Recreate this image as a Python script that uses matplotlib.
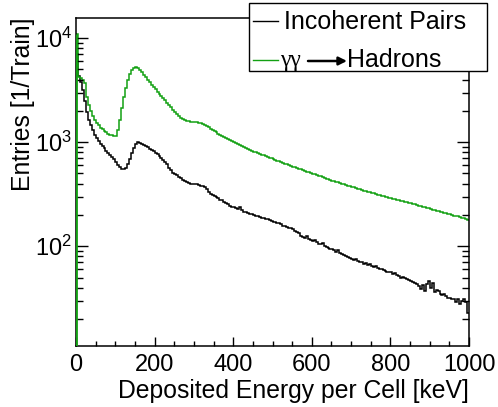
import numpy as np
import matplotlib
matplotlib.use("Agg")
import matplotlib.pyplot as plt
from matplotlib.ticker import MultipleLocator, LogLocator, NullFormatter, FixedLocator
from matplotlib.patches import Rectangle, FancyArrowPatch
from matplotlib.lines import Line2D

plt.rcParams['font.family'] = ['Liberation Sans', 'DejaVu Sans']
plt.rcParams['mathtext.fontset'] = 'custom'
plt.rcParams['mathtext.rm'] = 'Liberation Sans'
plt.rcParams['mathtext.it'] = 'Liberation Sans:italic'
plt.rcParams['mathtext.bf'] = 'Liberation Sans:bold'

# Bin edges: 0..1000 keV in 5 keV bins
bin_width = 5
n_bins = 200

incoherent_pairs = [
    7000, 4300, 3800, 3200, 2500, 1950, 1650, 1450, 1300, 1180,
    1090, 1020, 960, 910, 870, 830, 790, 755, 720, 690,
    650, 610, 575, 555, 548, 570, 620, 690, 780, 880,
    960, 1010, 990, 960, 940, 915, 890, 865, 845, 820,
    795, 765, 735, 710, 680, 650, 615, 560, 535, 510,
    495, 480, 462, 450, 430, 420, 410, 402, 398, 395,
    392, 396, 385, 378, 380, 372, 355, 330, 318, 310,
    305, 296, 290, 280, 275, 265, 258, 252, 245, 240,
    236, 232, 228, 240, 222, 215, 212, 208, 205, 202,
    200, 196, 193, 190, 188, 186, 183, 181, 178, 176,
    172, 170, 166, 168, 163, 158, 156, 152, 150, 148,
    145, 140, 136, 133, 126, 122, 120, 124, 117, 114,
    112, 114, 110, 106, 104, 108, 100, 98, 96, 94,
    93, 91, 88, 92, 86, 84, 82, 80, 78, 77,
    76, 74, 75, 72, 71, 70, 68, 69, 66, 67,
    65, 63, 64, 62, 60, 61, 59, 58, 57, 56,
    56, 54, 55, 53, 52, 50, 51, 49, 48, 47,
    46, 45, 44, 43, 41, 39, 42, 37, 43, 46,
    40, 44, 36, 38, 37, 35, 34, 35, 33, 32,
    32, 31, 31, 29, 31, 28, 30, 31, 29, 23,
]

gg_hadrons = [
    11000, 4200, 4100, 4000, 3700, 2700, 2300, 2000, 1800, 1650,
    1530, 1450, 1380, 1330, 1280, 1240, 1210, 1180, 1160, 1145,
    1140, 1300, 1650, 2150, 2700, 3300, 3950, 4500, 4900, 5150,
    5250, 5200, 4950, 4700, 4450, 4200, 3980, 3780, 3580, 3400,
    3230, 3070, 2920, 2780, 2650, 2520, 2400, 2280, 2170, 2060,
    1960, 1870, 1790, 1720, 1670, 1635, 1610, 1595, 1580, 1570,
    1560, 1550, 1535, 1515, 1490, 1460, 1420, 1385, 1350, 1310,
    1280, 1245, 1210, 1185, 1155, 1130, 1100, 1075, 1050, 1025,
    1000, 975, 955, 935, 915, 895, 877, 860, 842, 826,
    812, 799, 786, 773, 760, 747, 735, 723, 711, 699,
    688, 677, 666, 655, 644, 633, 622, 612, 602, 592,
    583, 574, 565, 556, 547, 538, 529, 521, 513, 505,
    497, 489, 482, 475, 468, 461, 454, 447, 440, 434,
    428, 422, 416, 410, 404, 398, 392, 387, 382, 377,
    372, 367, 362, 357, 352, 347, 342, 338, 334, 330,
    326, 322, 318, 314, 310, 306, 302, 298, 294, 291,
    288, 285, 282, 279, 276, 273, 270, 267, 264, 261,
    258, 255, 252, 249, 246, 243, 240, 237, 234, 231,
    228, 225, 222, 219, 216, 213, 211, 209, 207, 205,
    203, 200, 197, 195, 193, 190, 187, 185, 182, 179,
]

label_pairs = "Incoherent Pairs"
label_gg = "γγ"
label_hadrons = "Hadrons"
x_ticks = [0, 200, 400, 600, 800, 1000]

edges = np.arange(n_bins + 1) * bin_width
ymin, ymax = 11.1, 15800

W, H = 498, 407
fig = plt.figure(figsize=(W / 100, H / 100), dpi=100)
ax = fig.add_axes([76 / W, 1 - 345.5 / H, (469 - 76) / W, (345.5 - 17.5) / H])

green = '#12a012'
ax.stairs(incoherent_pairs, edges, baseline=None, color='black', lw=1.1)
ax.stairs(gg_hadrons, edges, baseline=None, color=green, lw=1.1)
ax.vlines(edges[0], ymin, gg_hadrons[0], color=green, lw=2.0, zorder=3)

ax.set_yscale('log')
ax.set_xlim(0, 1000)
ax.set_ylim(ymin, ymax)

ax.xaxis.set_major_locator(FixedLocator(x_ticks))
ax.xaxis.set_minor_locator(MultipleLocator(50))
ax.yaxis.set_minor_locator(LogLocator(base=10, subs=np.arange(2, 10), numticks=20))
ax.yaxis.set_minor_formatter(NullFormatter())
ax.set_yticks([1e2, 1e3, 1e4])
ax.set_yticklabels([r'$10^2$', r'$10^3$', r'$10^4$'])

ax.tick_params(axis='x', which='major', direction='in', length=6.5, width=1.0, top=False,
               labelsize=17, pad=6)
ax.tick_params(axis='x', which='minor', direction='in', length=3.3, width=1.0, top=False)
ax.tick_params(axis='y', which='major', direction='in', length=8.5, width=1.0, right=True,
               labelsize=17, pad=3)
ax.tick_params(axis='y', which='minor', direction='in', length=5, width=1.0, right=True)

for s in ax.spines.values():
    s.set_linewidth(1.1)

ax.set_xlabel('Deposited Energy per Cell [keV]', fontsize=17.8, loc='right', labelpad=2)
ax.set_ylabel('Entries [1/Train]', fontsize=17.8, loc='top', labelpad=0)

# ---- legend box drawn in figure pixel coordinates (ROOT TLegend style)
def fx(px):
    return px / W

def fy(py):
    return 1 - py / H

fig.patches.append(Rectangle((fx(249), fy(71)), fx(487) - fx(249), fy(3) - fy(71),
                             transform=fig.transFigure, facecolor='white',
                             edgecolor='black', lw=1.0, zorder=5))
fig.lines.append(Line2D([fx(253), fx(278)], [fy(21), fy(21)], transform=fig.transFigure,
                        color='black', lw=1.0, zorder=6))
fig.text(fx(284), fy(29), label_pairs, fontsize=18, ha='left', va='baseline', zorder=6)
fig.lines.append(Line2D([fx(253), fx(278)], [fy(60), fy(60)], transform=fig.transFigure,
                        color=green, lw=1.0, zorder=6))
fig.text(fx(280), fy(66), label_gg, fontsize=17, ha='left', va='baseline', zorder=6,
         family=['Liberation Serif', 'DejaVu Serif'])
fig.patches.append(FancyArrowPatch((fx(308), fy(61)), (fx(347), fy(61)),
                                   transform=fig.transFigure, arrowstyle='-|>',
                                   mutation_scale=12, lw=1.8, color='black',
                                   shrinkA=0, shrinkB=0, zorder=6))
fig.text(fx(347), fy(67), label_hadrons, fontsize=18, ha='left', va='baseline', zorder=6)

fig.savefig('out.png', dpi=100)
